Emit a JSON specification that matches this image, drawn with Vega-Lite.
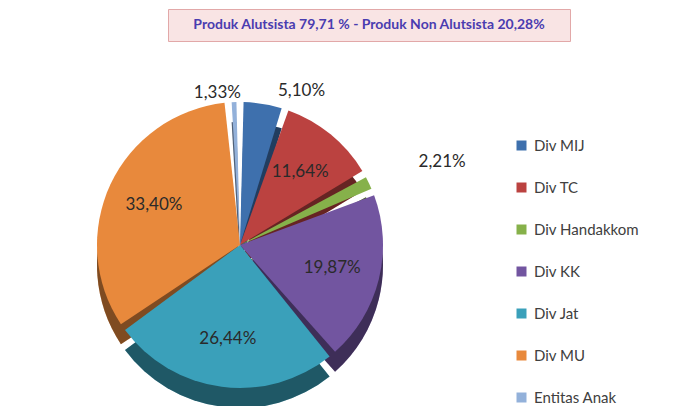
{
  "$schema": "https://vega.github.io/schema/vega-lite/v6.json",
  "padding": {"left": 80, "top": 8, "right": 0, "bottom": 0},
  "background": "white",
  "bounds": "flush",
  "spacing": 48,
  "config": {"view": {"stroke": null}, "font": "Lato"},
  "resolve": {"scale": {"color": "independent"}},
  "vconcat": [
    {
      "width": 402,
      "height": 32,
      "view": {"fill": "#f9e4e4", "stroke": "#e2a8a8", "strokeWidth": 1},
      "data": {"values": [{"t": "Produk Alutsista 79,71 % - Produk Non Alutsista 20,28%"}]},
      "mark": {"type": "text", "fontSize": 14, "fontWeight": "bold", "color": "#4a3cb0", "font": "Lato"},
      "encoding": {"text": {"field": "t", "type": "nominal"}}
    },
    {
      "width": 144,
      "height": 312,
      "data": {"values": [
        {"idx": 1, "div": "Div MIJ", "value": 5.10, "label": "5,10%", "inside": false},
        {"idx": 2, "div": "Div TC", "value": 11.64, "label": "11,64%", "inside": true},
        {"idx": 3, "div": "Div Handakkom", "value": 2.21, "label": "2,21%", "inside": false},
        {"idx": 4, "div": "Div KK", "value": 19.87, "label": "19,87%", "inside": true},
        {"idx": 5, "div": "Div Jat", "value": 26.44, "label": "26,44%", "inside": true},
        {"idx": 6, "div": "Div MU", "value": 33.40, "label": "33,40%", "inside": true},
        {"idx": 7, "div": "Entitas Anak", "value": 1.33, "label": "1,33%", "inside": false}
      ]},
      "encoding": {
        "theta": {"field": "value", "type": "quantitative", "stack": true},
        "order": {"field": "idx", "type": "quantitative"}
      },
      "layer": [
        {
          "mark": {"type": "arc", "radius": 143, "yOffset": 20, "padAngle": 0.05},
          "encoding": {
            "color": {
              "field": "div", "type": "nominal",
              "sort": ["Div MIJ", "Div TC", "Div Handakkom", "Div KK", "Div Jat", "Div MU", "Entitas Anak"],
              "scale": {
                "domain": ["Div MIJ", "Div TC", "Div Handakkom", "Div KK", "Div Jat", "Div MU", "Entitas Anak"],
                "range": ["#3e70ad", "#bb4240", "#86b14a", "#7255a0", "#3aa0ba", "#e8893c", "#93b1da"]
              },
              "legend": {
                "orient": "none", "legendX": 346, "legendY": 49, "title": null,
                "labelFontSize": 15, "labelFont": "Lato", "labelColor": "#404040",
                "symbolType": "square", "symbolSize": 100, "symbolStrokeWidth": 0,
                "rowPadding": 26, "labelOffset": 5
              }
            }
          }
        },
        {
          "mark": {"type": "arc", "radius": 143, "yOffset": 20, "padAngle": 0.05, "fill": "black", "fillOpacity": 0.45}
        },
        {
          "mark": {"type": "arc", "radius": 143, "padAngle": 0.05},
          "encoding": {"color": {"field": "div", "type": "nominal", "legend": null}}
        },
        {
          "mark": {"type": "text", "radius": 95, "fontSize": 17, "color": "#2a2a2a", "font": "Lato"},
          "encoding": {
            "text": {"condition": {"test": "datum.inside", "field": "label"}, "value": ""}
          }
        },
        {
          "mark": {"type": "text", "radius": 158, "dx": -16, "dy": 6, "fontSize": 17, "color": "#2a2a2a", "font": "Lato"},
          "encoding": {
            "text": {"condition": {"test": "datum.idx == 7", "field": "label"}, "value": ""}
          }
        },
        {
          "mark": {"type": "text", "radius": 160, "dx": 36, "dy": 4, "fontSize": 17, "color": "#2a2a2a", "font": "Lato"},
          "encoding": {
            "text": {"condition": {"test": "datum.idx == 1", "field": "label"}, "value": ""}
          }
        },
        {
          "mark": {"type": "text", "radius": 200, "dx": 22, "dy": 4, "fontSize": 17, "color": "#2a2a2a", "font": "Lato"},
          "encoding": {
            "text": {"condition": {"test": "datum.idx == 3", "field": "label"}, "value": ""}
          }
        }
      ]
    }
  ]
}
